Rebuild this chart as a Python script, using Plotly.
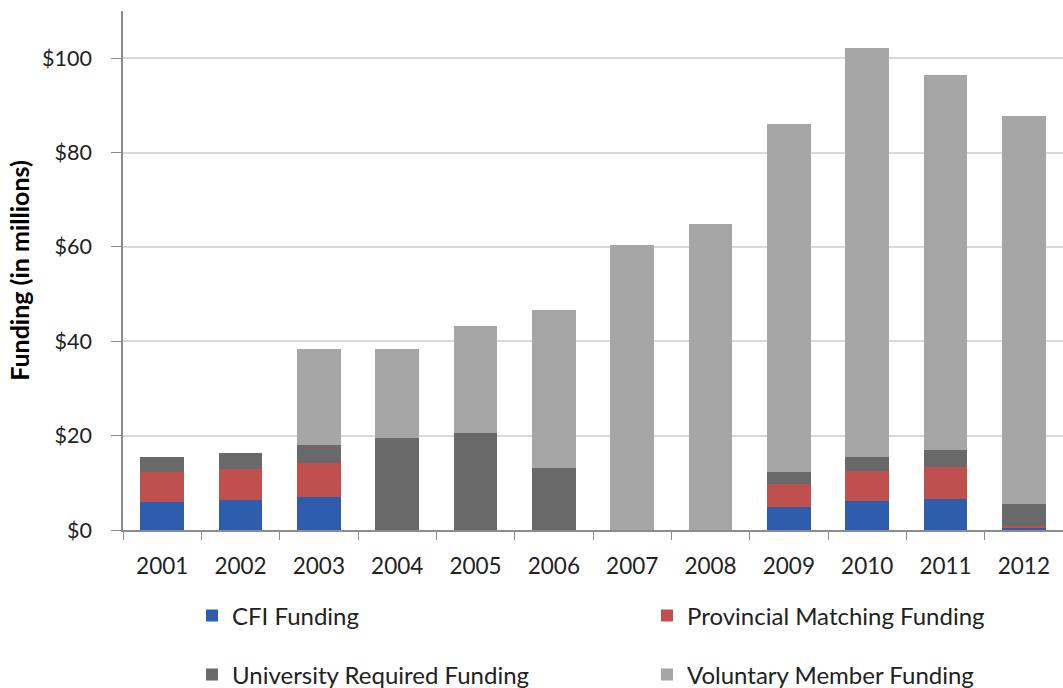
import plotly.graph_objects as go

years = ["2001", "2002", "2003", "2004", "2005", "2006",
         "2007", "2008", "2009", "2010", "2011", "2012"]
cfi = [6.0, 6.3, 7.1, 0, 0, 0, 0, 0, 4.95, 6.1, 6.6, 0.4]
provincial = [6.25, 6.7, 7.1, 0, 0, 0, 0, 0, 4.8, 6.4, 6.7, 0.45]
university = [3.25, 3.3, 3.8, 19.5, 20.6, 13.2, 0, 0, 2.5, 3.0, 3.75, 4.65]
voluntary = [0, 0, 20.4, 18.9, 22.7, 33.5, 60.3, 64.8, 73.75, 86.6, 79.35, 82.2]
y_ticks = [0, 20, 40, 60, 80, 100]
y_labels = ["$0", "$20", "$40", "$60", "$80", "$100"]

FONT = "Lato, Calibri, Carlito, sans-serif"

fig = go.Figure()
series = [
    ("CFI Funding", cfi, "#2E5DAE", "legend"),
    ("Provincial Matching Funding", provincial, "#C0504D", "legend"),
    ("University Required Funding", university, "#696969", "legend2"),
    ("Voluntary Member Funding", voluntary, "#A6A6A6", "legend2"),
]
for name, vals, color, lg in series:
    fig.add_trace(go.Bar(x=years, y=vals, name=name, marker=dict(color=color, line=dict(width=0)),
                         legend=lg))

legend_common = dict(orientation="h", xref="container", yref="container",
                     xanchor="left", yanchor="middle", entrywidth=410,
                     font=dict(family=FONT, size=24, color="#222222"),
                     bgcolor="rgba(0,0,0,0)", traceorder="normal")

fig.update_layout(
    barmode="stack",
    bargap=0.44,
    width=1063, height=688,
    margin=dict(l=123, r=0, t=11, b=158),
    plot_bgcolor="white", paper_bgcolor="white",
    font=dict(family=FONT, size=22, color="#222222"),
    legend=dict(x=192 / 1063, y=1 - 616 / 688, **legend_common),
    legend2=dict(x=192 / 1063, y=1 - 675 / 688, **legend_common),
    xaxis=dict(
        showline=True, linecolor="#8C8C8C", linewidth=1.5,
        ticks="outside", tickson="boundaries", ticklen=8, tickcolor="#8C8C8C",
        ticklabelstandoff=15,
        tickfont=dict(family=FONT, size=22.5, color="#222222"),
    ),
    yaxis=dict(
        range=[0, 110],
        tickvals=y_ticks, ticktext=y_labels,
        showline=True, linecolor="#8C8C8C", linewidth=1.5,
        ticks="outside", ticklen=10, tickcolor="#8C8C8C",
        ticklabelstandoff=15,
        showgrid=True, gridcolor="#D9D9D9", gridwidth=1.5,
        zeroline=False,
        tickfont=dict(family=FONT, size=21.5, color="#222222"),
        title=dict(text="<b>Funding (in millions)</b>", standoff=5,
                   font=dict(family=FONT, size=25, color="#000000")),
    ),
)

fig.write_html("out.html", config={"displayModeBar": False},
               post_script="document.body.style.margin='0';document.body.style.padding='0';")
